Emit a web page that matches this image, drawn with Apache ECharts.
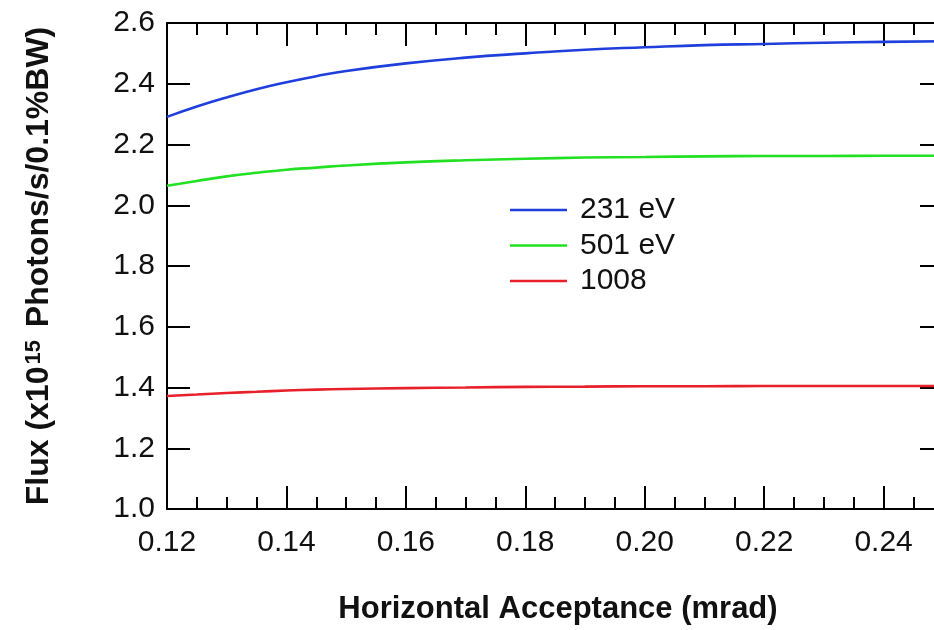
<!DOCTYPE html>
<html>
<head>
<meta charset="utf-8">
<script src="https://cdn.jsdelivr.net/npm/echarts@6/dist/echarts.min.js"></script>
<style>html,body{margin:0;padding:0;background:#fff;overflow:hidden;width:934px;height:630px}#c{width:1010px;height:630px}</style>
</head>
<body>
<div id="c"></div>
<script>
var xValues = [0.12, 0.125, 0.13, 0.135, 0.14, 0.145, 0.15, 0.16, 0.17, 0.18, 0.19, 0.20, 0.21, 0.22, 0.23, 0.24, 0.25];
var flux231 = [2.291, 2.325, 2.355, 2.382, 2.405, 2.425, 2.442, 2.467, 2.486, 2.500, 2.512, 2.520, 2.527, 2.531, 2.535, 2.538, 2.540];
var flux501 = [2.064, 2.080, 2.095, 2.107, 2.117, 2.124, 2.131, 2.141, 2.148, 2.153, 2.157, 2.159, 2.161, 2.162, 2.162, 2.163, 2.163];
var flux1008 = [1.372, 1.377, 1.382, 1.386, 1.390, 1.393, 1.395, 1.398, 1.400, 1.402, 1.403, 1.404, 1.404, 1.405, 1.405, 1.405, 1.405];
var seriesNames = ['231 eV', '501 eV', '1008'];

function pairs(ys) { return xValues.map(function (x, i) { return [x, ys[i]]; }); }

var FONT = 'Liberation Sans, Arial, Helvetica, sans-serif';
var chart = echarts.init(document.getElementById('c'), null, {renderer: 'canvas'});
var tickStyle = {color: '#000', width: 2};
var option = {
  backgroundColor: '#fff',
  animation: false,
  grid: {left: 167, top: 23, width: 836, height: 486, containLabel: false},
  legend: {
    orient: 'vertical', left: 510, top: 195, padding: 0,
    icon: 'rect', itemWidth: 57, itemHeight: 2.5, itemGap: 5.5,
    data: seriesNames,
    textStyle: {fontFamily: FONT, fontSize: 30, lineHeight: 30, color: '#111', padding: [0, 0, 0, 8]}
  },
  xAxis: [{
    type: 'value', position: 'bottom', min: 0.12, max: 0.26, interval: 0.02,
    axisLine: {lineStyle: {color: '#000', width: 2}},
    axisTick: {inside: true, length: 23, lineStyle: tickStyle},
    minorTick: {show: true, splitNumber: 4, length: 12, lineStyle: tickStyle},
    splitLine: {show: false},
    axisLabel: {showMaxLabel: false, margin: 19, fontFamily: FONT, fontSize: 30, color: '#111',
      formatter: function (v) { return v.toFixed(2); }},
    name: 'Horizontal Acceptance (mrad)', nameLocation: 'middle', nameGap: 85,
    nameTextStyle: {fontFamily: FONT, fontSize: 31, fontWeight: 'bold', color: '#111', padding: [0, 54, 0, 0]}
  }, {
    type: 'value', position: 'top', min: 0.12, max: 0.26, interval: 0.02,
    axisLine: {lineStyle: {color: '#000', width: 2}},
    axisTick: {inside: true, length: 23, lineStyle: tickStyle},
    minorTick: {show: true, splitNumber: 4, length: 12, lineStyle: tickStyle},
    splitLine: {show: false},
    axisLabel: {show: false}
  }],
  yAxis: [{
    type: 'value', position: 'left', min: 1.0, max: 2.6, interval: 0.2,
    axisLine: {show: true, lineStyle: {color: '#000', width: 2}},
    axisTick: {show: true, inside: true, length: 23, lineStyle: tickStyle},
    splitLine: {show: false},
    axisLabel: {margin: 12, fontFamily: FONT, fontSize: 30, color: '#111',
      formatter: function (v) { return v.toFixed(1); }},
    name: '{b|Flux (x10}{s|15}{b| Photons/s/0.1%BW)}',
    nameLocation: 'middle', nameGap: 112, nameRotate: 90,
    nameTextStyle: {
      rich: {
        b: {fontFamily: FONT, fontSize: 32, fontWeight: 'bold', color: '#111', lineHeight: 32},
        s: {fontFamily: FONT, fontSize: 22, fontWeight: 'bold', color: '#111', lineHeight: 22, verticalAlign: 'top', padding: [0, 4, 12, 2]}
      }
    }
  }, {
    type: 'value', position: 'right', offset: -60, min: 1.0, max: 2.6, interval: 0.2,
    axisLine: {show: true, lineStyle: {color: '#000', width: 2}},
    axisTick: {show: true, inside: true, length: 23, lineStyle: tickStyle},
    splitLine: {show: false},
    axisLabel: {show: false}
  }],
  series: [
    {name: seriesNames[0], type: 'line', data: pairs(flux231), smooth: true, symbol: 'none', lineStyle: {color: '#1f3fdc', width: 2.6}, itemStyle: {color: '#1f3fdc'}},
    {name: seriesNames[1], type: 'line', data: pairs(flux501), smooth: true, symbol: 'none', lineStyle: {color: '#22e022', width: 2.6}, itemStyle: {color: '#22e022'}},
    {name: seriesNames[2], type: 'line', data: pairs(flux1008), smooth: true, symbol: 'none', lineStyle: {color: '#e8202a', width: 2.6}, itemStyle: {color: '#e8202a'}}
  ]
};
chart.setOption(option);
</script>
</body>
</html>
